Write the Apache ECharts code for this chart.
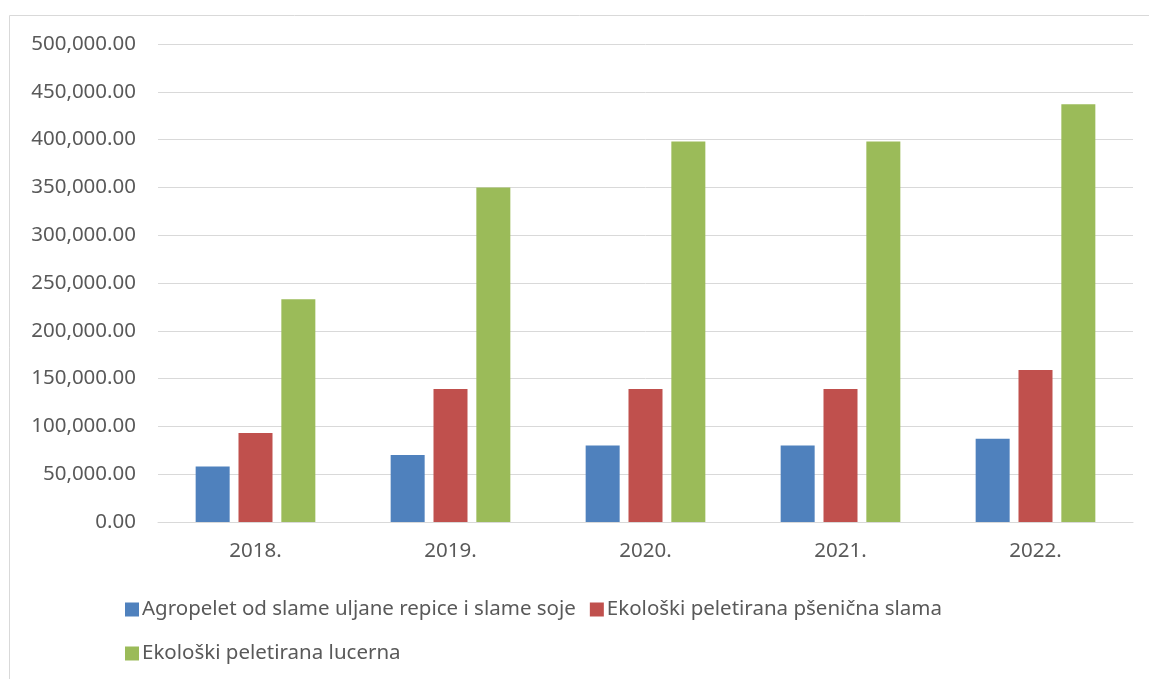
<!DOCTYPE html>
<html>
<head>
    <meta charset="utf-8" />
    <title>Peleti</title>
    <style>
        html, body { margin: 0; padding: 0; background: #fff; }
        #chart { width: 1149px; height: 679px; }
    </style>
</head>
<body>
    <div id="chart"></div>
    <script src="https://cdn.jsdelivr.net/npm/echarts@6/dist/echarts.min.js"></script>
<script>
    // podaci
    var godine = ['2018.', '2019.', '2020.', '2021.', '2022.'];
    var agropelet = [58000, 70000, 80000, 80000, 87000];
    var psenicnaSlama = [93000, 139000, 139000, 139000, 159000];
    var lucerna = [233000, 350000, 398000, 398000, 437000];
    var yTicks = [0, 50000, 100000, 150000, 200000, 250000, 300000, 350000, 400000, 450000, 500000];

    var font = '"Noto Sans", "DejaVu Sans", sans-serif';
    var txt = '#595959';
    var fs = 20.5;

    var myChart = echarts.init(document.getElementById('chart'));
    var option = {
        animation: false,
        textStyle: { fontFamily: font },
        graphic: [{
            type: 'rect',
            shape: { x: 9.5, y: 15.5, width: 1160, height: 700 },
            style: { fill: 'none', stroke: '#d9d9d9', lineWidth: 1 },
            silent: true
        }],
        grid: { left: 158, right: 16, top: 44, height: 478 },
        legend: [{
            data: ['Agropelet od slame uljane repice i slame soje', 'Ekološki peletirana pšenična slama'],
            left: 120, top: 594,
            itemWidth: 14, itemHeight: 14, itemGap: 14,
            icon: 'rect',
            textStyle: { color: txt, fontSize: fs, fontFamily: font, padding: [0, 0, 0, -2] }
        }, {
            data: ['Ekološki peletirana lucerna'],
            left: 120, top: 638,
            itemWidth: 14, itemHeight: 14,
            icon: 'rect',
            textStyle: { color: txt, fontSize: fs, fontFamily: font, padding: [0, 0, 0, -2] }
        }],
        xAxis: {
            type: 'category',
            data: godine,
            axisLine: { lineStyle: { color: '#d9d9d9', width: 1 } },
            axisTick: { show: false },
            axisLabel: { color: txt, fontSize: fs, margin: 19, fontFamily: font }
        },
        yAxis: {
            type: 'value',
            min: yTicks[0],
            max: yTicks[yTicks.length - 1],
            interval: yTicks[1] - yTicks[0],
            axisLine: { show: false },
            axisTick: { show: false },
            splitLine: { lineStyle: { color: '#d9d9d9', width: 1 } },
            axisLabel: {
                color: txt, fontSize: fs, margin: 22, fontFamily: font,
                formatter: function (v) {
                    return v.toLocaleString('en-US', { minimumFractionDigits: 2, maximumFractionDigits: 2 });
                }
            }
        },
        series: [{
            name: 'Agropelet od slame uljane repice i slame soje',
            type: 'bar',
            data: agropelet,
            barWidth: 34,
            barGap: '26%',
            itemStyle: { color: '#4f81bd' }
        }, {
            name: 'Ekološki peletirana pšenična slama',
            type: 'bar',
            data: psenicnaSlama,
            barWidth: 34,
            barGap: '26%',
            itemStyle: { color: '#c0504d' }
        }, {
            name: 'Ekološki peletirana lucerna',
            type: 'bar',
            data: lucerna,
            barWidth: 34,
            barGap: '26%',
            itemStyle: { color: '#9bbb59' }
        }]
    };
    myChart.setOption(option);
</script>
</body>
</html>
